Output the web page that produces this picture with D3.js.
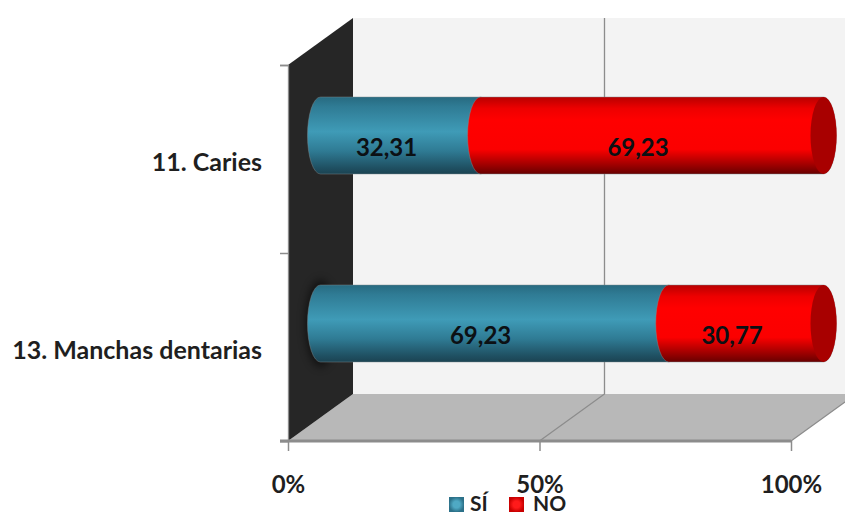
<!DOCTYPE html>
<html>
<head>
<meta charset="utf-8">
<script src="https://cdn.jsdelivr.net/npm/d3@7"></script>
<style>
html,body{margin:0;padding:0;background:#fff;overflow:hidden}
svg{display:block}
text{font-family:Lato,"Open Sans",sans-serif;font-weight:700}
</style>
</head>
<body>
<svg id="chart" width="845" height="514"></svg>
<script>
// Percent-stacked cylinder bars on a 3D-style frame
const categories = ["11. Caries", "13. Manchas dentarias"];
const seriesNames = ["SÍ", "NO"];
const siValues = [32.31, 69.23];
const noValues = [69.23, 30.77];
const xTicks = [0, 0.5, 1];

const rows = categories.map((c, i) => ({category: c, "SÍ": siValues[i], "NO": noValues[i]}));
const stacked = d3.stack().keys(seriesNames).offset(d3.stackOffsetExpand)(rows);

const W = 845, H = 514;
const frame = {left: 288, right: 791, top: 65, bottom: 441};
const depth = {dx: 65, dy: -47};
const capRx = 13;
const barThickness = 77;

const x = d3.scaleLinear().domain([0, 1]).range([frame.left, frame.right]);
const y = d3.scaleBand().domain(categories).range([frame.top, frame.bottom]);
const yEdges = d3.scaleLinear().domain([0, categories.length]).range([frame.top, frame.bottom]);

const svg = d3.select("#chart");
const defs = svg.append("defs");

// Shading that gives the bars their round look
const ramps = {
  "SÍ": [[0, "#276a80"], [0.12, "#2f7b94"], [0.45, "#3f9bb7"], [0.7, "#2f7b94"], [0.92, "#1f5062"], [1, "#1b4352"]],
  "NO": [[0, "#b80000"], [0.15, "#ee0000"], [0.3, "#ff0000"], [0.68, "#fb0000"], [0.88, "#a00000"], [1, "#680000"]]
};
const keyColors = {
  "SÍ": ["#4fa9c4", "#2c7189"],
  "NO": ["#ff1a1a", "#c80000"]
};
seriesNames.forEach((name, i) => {
  const g = defs.append("linearGradient").attr("id", "tube" + i)
    .attr("x1", 0).attr("y1", 0).attr("x2", 0).attr("y2", 1);
  ramps[name].forEach(([o, c]) => g.append("stop").attr("offset", o).attr("stop-color", c));
  const k = defs.append("radialGradient").attr("id", "key" + i);
  k.append("stop").attr("offset", 0.45).attr("stop-color", keyColors[name][0]);
  k.append("stop").attr("offset", 1).attr("stop-color", keyColors[name][1]);
});
defs.append("filter").attr("id", "soft").attr("x", "-60%").attr("y", "-30%").attr("width", "220%").attr("height", "160%")
  .append("feGaussianBlur").attr("stdDeviation", 4);

const fr = x.range();
const corners = (pts) => pts.map(p => p.join(",")).join(" ");

// Back wall
svg.append("rect")
  .attr("x", frame.left + depth.dx).attr("y", frame.top + depth.dy)
  .attr("width", W - frame.left - depth.dx).attr("height", frame.bottom - frame.top)
  .attr("fill", "#f3f3f3");

// Floor
svg.append("polygon").attr("fill", "#b8b8b8").attr("points", corners([
  [fr[0], frame.bottom], [fr[0] + depth.dx, frame.bottom + depth.dy],
  [fr[1] + depth.dx, frame.bottom + depth.dy], [fr[1], frame.bottom]
]));

// Side wall
svg.append("polygon").attr("fill", "#262626").attr("points", corners([
  [fr[0], frame.top], [fr[0] + depth.dx, frame.top + depth.dy],
  [fr[0] + depth.dx, frame.bottom + depth.dy], [fr[0], frame.bottom]
]));

// Gridlines running over the floor and up the back wall
xTicks.slice(1).forEach(t => {
  const px = x(t);
  svg.append("path")
    .attr("d", `M${px},${frame.bottom}L${px + depth.dx},${frame.bottom + depth.dy}V${frame.top + depth.dy}`)
    .attr("fill", "none").attr("stroke", "#8c8c8c").attr("stroke-width", 1.3);
});

// Axes
const xAxis = d3.axisBottom(x).tickValues(xTicks).tickFormat(d3.format(".0%")).tickSize(10).tickPadding(25);
const gx = svg.append("g").attr("transform", `translate(0,${frame.bottom})`).call(xAxis);
gx.select(".domain").remove();
gx.selectAll("line").attr("stroke", "#8c8c8c").attr("stroke-width", 1.5);
gx.selectAll("text").attr("font-size", 24).attr("fill", "#1f1f1f");
svg.append("line").attr("x1", frame.left - 8).attr("x2", fr[1]).attr("y1", frame.bottom).attr("y2", frame.bottom)
  .attr("stroke", "#8c8c8c").attr("stroke-width", 3);

const yAxis = d3.axisLeft(yEdges).tickValues(d3.range(categories.length + 1)).tickFormat("").tickSize(8);
const gy = svg.append("g").attr("transform", `translate(${frame.left},0)`).call(yAxis);
gy.select(".domain").attr("stroke", "#8c8c8c").attr("stroke-width", 1.3);
gy.selectAll("line").attr("stroke", "#8c8c8c").attr("stroke-width", 1.5);

svg.append("g").selectAll("text").data(categories).join("text")
  .attr("x", 262).attr("y", d => y(d) + y.bandwidth() / 2 + 12)
  .attr("text-anchor", "end").attr("font-size", 25).attr("fill", "#1f1f1f")
  .text(d => d);

// Cylinder bars sit halfway into the depth of the frame
const mid = {dx: depth.dx / 2, dy: depth.dy / 2};
const tube = (x0, x1, top, bottom) => {
  const ry = (bottom - top) / 2;
  return `M${x0},${top}L${x1},${top}A${capRx},${ry} 0 0 1 ${x1},${bottom}L${x0},${bottom}A${capRx},${ry} 0 0 1 ${x0},${top}Z`;
};

const barTop = d => y(d.data.category) + y.bandwidth() / 2 + mid.dy - barThickness / 2;

// Soft shadow that the lower bar drops on the side wall
svg.append("ellipse")
  .attr("cx", x(0) + mid.dx).attr("cy", y(categories[1]) + y.bandwidth() / 2 + mid.dy)
  .attr("rx", capRx + 2).attr("ry", barThickness / 2 + 5)
  .attr("fill", "#000").attr("opacity", 0.55).attr("filter", "url(#soft)");

stacked.forEach((layer, s) => {
  const g = svg.append("g");
  g.selectAll("path").data(layer).join("path")
    .attr("d", d => tube(x(d[0]) + mid.dx, x(d[1]) + mid.dx, barTop(d), barTop(d) + barThickness))
    .attr("fill", `url(#tube${s})`)
    .attr("stroke", "#7f8a8e").attr("stroke-opacity", 0.45).attr("stroke-width", 1);
  if (s === stacked.length - 1) {
    g.selectAll("ellipse").data(layer).join("ellipse")
      .attr("cx", d => x(d[1]) + mid.dx).attr("cy", d => barTop(d) + barThickness / 2)
      .attr("rx", capRx).attr("ry", barThickness / 2)
      .attr("fill", "#a80000");
  }
});

// Value labels, written with a decimal comma
const comma = v => v.toFixed(2).replace(".", ",");
stacked.forEach((layer) => {
  svg.append("g").selectAll("text").data(layer).join("text")
    .attr("x", d => x((d[0] + d[1]) / 2) + mid.dx - 14)
    .attr("y", d => barTop(d) + barThickness / 2 + 20)
    .attr("text-anchor", "middle").attr("font-size", 24).attr("fill", "#0c1014")
    .text(d => comma(d.data[layer.key]));
});

// Legend
const legendX = d3.scalePoint().domain(seriesNames).range([449, 509]);
const legend = svg.append("g").selectAll("g").data(seriesNames).join("g")
  .attr("transform", d => `translate(${legendX(d)},497)`);
legend.append("rect").attr("width", 15).attr("height", 15)
  .attr("fill", (d, i) => `url(#key${i})`);
legend.append("text").attr("x", (d, i) => i ? 24 : 21).attr("y", 13.5)
  .attr("font-size", 21).attr("fill", "#1f1f1f").text(d => d);
</script>
</body>
</html>
